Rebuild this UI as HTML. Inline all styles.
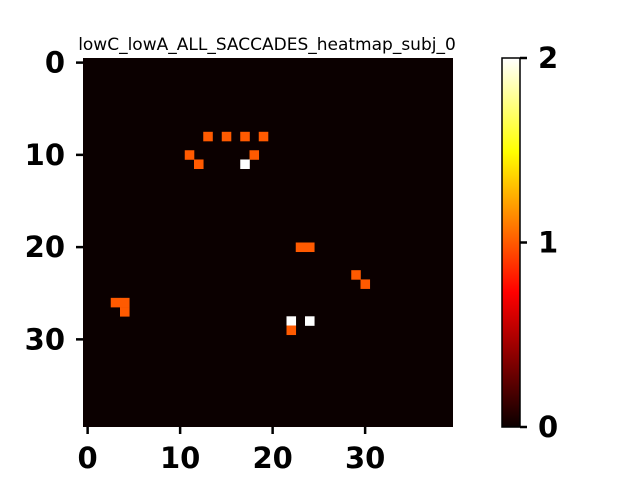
<!DOCTYPE html>
<html><head><meta charset="utf-8"><style>
body{margin:0;background:#fff;}
svg text{font-family:"DejaVu Sans","Liberation Sans",sans-serif;}
</style></head><body>
<svg id="chart" width="640" height="480" xmlns="http://www.w3.org/2000/svg">
<defs>
<linearGradient id="hot" x1="0" y1="1" x2="0" y2="0">
<stop offset="0" stop-color="#0b0000"/>
<stop offset="0.365" stop-color="#ff0000"/>
<stop offset="0.5" stop-color="#ff5a00"/>
<stop offset="0.746" stop-color="#ffff00"/>
<stop offset="1" stop-color="#ffffff"/>
</linearGradient>
</defs>
<text x="267" y="50" font-size="17" text-anchor="middle">lowC_lowA_ALL_SACCADES_heatmap_subj_0</text>
<rect x="83" y="58" width="370" height="369" fill="#0b0000"/>
<g id="cells"></g>
<g id="axes"></g>
<rect x="502" y="58" width="18" height="369" fill="url(#hot)" stroke="#000" stroke-width="1.5"/>
</svg>
<script>
const rows = [8,8,8,8,10,10,11,11,20,20,23,24,26,26,27,28,28,29];
const cols = [13,15,17,19,11,18,12,17,23,24,29,30,3,4,4,22,24,22];
const values = [1,1,1,1,1,1,1,2,1,1,1,1,1,1,1,2,2,1];
const ticks = [0,10,20,30];
const cbarTicks = [0,1,2];
const N=40, x0=83, y0=58, W=370, H=369, vmax=2;
const cw=W/N, ch=H/N;
const sx=c=>x0+c*cw, sy=r=>y0+r*ch;
function color(v){return v>=2?'#ffffff':(v>=1?'#ff5a00':'#0b0000');}
const ns='http://www.w3.org/2000/svg';
const cg=document.getElementById('cells'), ag=document.getElementById('axes');
rows.forEach((r,i)=>{
 const e=document.createElementNS(ns,'rect');
 e.setAttribute('x',sx(cols[i]));e.setAttribute('y',sy(r));
 e.setAttribute('width',cw+0.3);e.setAttribute('height',ch+0.3);
 e.setAttribute('fill',color(values[i]));
 
 
 cg.appendChild(e);
});
function line(x1,y1,x2,y2){const l=document.createElementNS(ns,'line');
 l.setAttribute('x1',x1);l.setAttribute('y1',y1);l.setAttribute('x2',x2);l.setAttribute('y2',y2);
 l.setAttribute('stroke','#000');l.setAttribute('stroke-width','2.5');
 
 
 ag.appendChild(l);}
function text(x,y,s,anchor,name){const t=document.createElementNS(ns,'text');
 t.setAttribute('x',x);t.setAttribute('y',y);t.setAttribute('font-size','29');t.setAttribute('font-weight','bold');
 t.setAttribute('text-anchor',anchor);t.textContent=s;
 
 
 ag.appendChild(t);}
ticks.forEach(v=>{
 const cx=sx(v)+cw/2; line(cx,427,cx,434); text(cx,468,v,'middle','x-tick-label');
 const cy=sy(v)+ch/2; line(76,cy,83,cy); text(65,cy+10,v,'end','y-tick-label');
});
cbarTicks.forEach(v=>{
 const y=427-v/vmax*H; line(520,y,527,y); text(538,y+10,v,'start','colorbar-tick-label');
});
</script>
</body></html>
